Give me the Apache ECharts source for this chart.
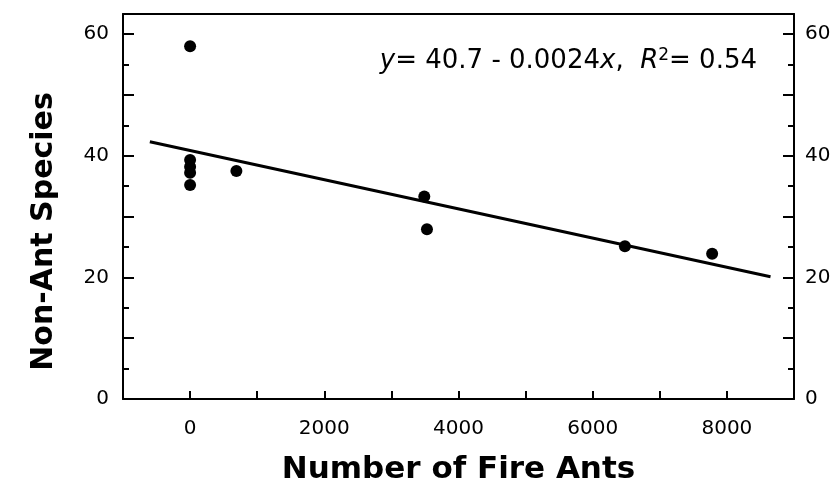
<!DOCTYPE html>
<html>
<head>
<meta charset="utf-8">
<script src="https://cdn.jsdelivr.net/npm/echarts@6/dist/echarts.min.js"></script>
<style>
  html, body { margin: 0; padding: 0; background: #fff; }
  #chart { width: 834px; height: 495px; }
</style>
</head>
<body>
<div id="chart"></div>
<script>
// observed plots: fire ants vs non-ant species
var antCounts   = [0, 0, 0, 0, 0, 690, 3490, 3530, 6480, 7780];
var speciesVals = [58.0, 39.3, 38.2, 37.2, 35.2, 37.5, 33.3, 27.9, 25.1, 23.9];

// fitted line endpoints (y = 40.7 - 0.0024x), as drawn
var fitX = [-600, 8650];
var fitY = [42.3, 20.1];

var xTickLabels = [0, 2000, 4000, 6000, 8000];
var yTickLabels = [0, 20, 40, 60];

var font = 'DejaVu Sans';
var ink = '#000';

var points = antCounts.map(function (x, i) { return [x, speciesVals[i]]; });
var fitLine = fitX.map(function (x, i) { return [x, fitY[i]]; });

function yAxisCfg(pos) {
    return {
        type: 'value',
        position: pos,
        min: 0,
        max: 63.3,
        interval: 10,
        axisLine: { show: true, onZero: false, lineStyle: { color: ink, width: 2 } },
        axisTick: { show: true, inside: true, length: 11, lineStyle: { color: ink, width: 2 } },
        minorTick: { show: true, splitNumber: 2, length: 6, lineStyle: { color: ink, width: 2 } },
        splitLine: { show: false },
        axisLabel: {
            margin: pos === 'left' ? 14 : 11,
            color: ink,
            fontFamily: font,
            fontSize: 20,
            formatter: function (v) { return yTickLabels.indexOf(v) >= 0 ? String(v) : ''; }
        }
    };
}

var chart = echarts.init(document.getElementById('chart'));
chart.setOption({
    animation: false,
    backgroundColor: '#fff',
    title: {
        right: 72,
        top: 42,
        text: '{i|y}= 40.7 - 0.0024{i|x},  {i|R}{sup|2}= 0.54',
        textStyle: {
            color: ink,
            fontFamily: font,
            fontSize: 26,
            fontWeight: 'normal',
            rich: {
                i: { fontStyle: 'italic', fontFamily: font, fontSize: 26, color: ink },
                sup: { fontFamily: font, fontSize: 17, color: ink, verticalAlign: 'top', padding: [0, 0, 12, 0] }
            }
        }
    },
    grid: { left: 123, right: 40, top: 14, bottom: 96, containLabel: false },
    xAxis: [{
        type: 'value',
        position: 'bottom',
        min: -1000,
        max: 9000,
        interval: 1000,
        name: 'Number of Fire Ants',
        nameLocation: 'middle',
        nameGap: 55,
        nameTextStyle: { color: ink, fontFamily: font, fontSize: 31, fontWeight: 'bold' },
        axisLine: { show: true, onZero: false, lineStyle: { color: ink, width: 2 } },
        axisTick: { show: true, inside: true, length: 8, lineStyle: { color: ink, width: 2 } },
        splitLine: { show: false },
        axisLabel: {
            margin: 20,
            color: ink,
            fontFamily: font,
            fontSize: 20,
            formatter: function (v) { return xTickLabels.indexOf(v) >= 0 ? String(v) : ''; }
        }
    }, {
        type: 'value',
        position: 'top',
        min: -1000,
        max: 9000,
        axisLine: { show: true, onZero: false, lineStyle: { color: ink, width: 2 } },
        axisTick: { show: false },
        axisLabel: { show: false },
        splitLine: { show: false }
    }],
    yAxis: [
        Object.assign(yAxisCfg('left'), {
            name: 'Non-Ant Species',
            nameLocation: 'middle',
            nameGap: 64,
            nameTextStyle: {
                color: ink, fontFamily: font, fontSize: 30, fontWeight: 'bold',
                padding: [0, 50, 0, 0]
            }
        }),
        yAxisCfg('right')
    ],
    series: [{
        type: 'line',
        data: fitLine,
        symbol: 'none',
        lineStyle: { color: ink, width: 3 },
        z: 2
    }, {
        type: 'scatter',
        data: points,
        symbol: 'circle',
        symbolSize: 12,
        itemStyle: { color: ink, opacity: 1 },
        z: 3
    }]
});
</script>
</body>
</html>
